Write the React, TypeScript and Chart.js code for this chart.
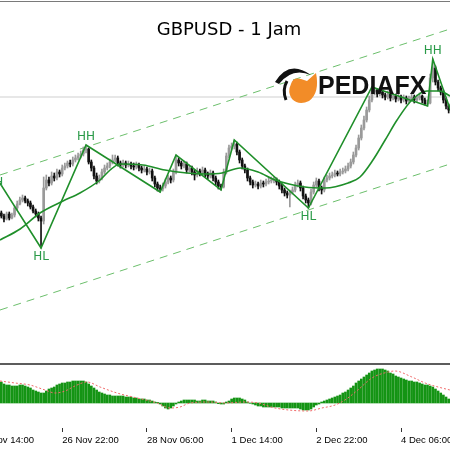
import React, { useEffect, useRef } from "react";
import { Chart, registerables } from "chart.js";

Chart.register(...registerables);

// ---- data (prices in pips above 1.3000) ----
const firstOpenPips = 187;
const closePips = [
  184, 181, 186, 182, 185, 192, 196, 200, 202, 199,
  197, 193, 189, 186, 182, 179, 212, 220, 217, 224,
  222, 228, 226, 232, 234, 237, 236, 240, 242, 244,
  246, 250, 251, 238, 232, 224, 219, 222, 228, 232,
  234, 238, 240, 242, 237, 235, 237, 235, 236, 234,
  233, 235, 232, 230, 231, 228, 229, 222, 216, 212,
  211, 214, 218, 222, 220, 228, 240, 237, 234, 236,
  230, 232, 228, 225, 229, 227, 230, 226, 224, 227,
  222, 218, 214, 213, 228, 244, 252, 254, 256, 248,
  240, 234, 230, 222, 218, 215, 216, 214, 217, 216,
  218, 219, 220, 220, 218, 214, 210, 207, 205, 208,
  210, 215, 217, 212, 204, 200, 197, 208, 215, 219,
  212, 210, 220, 222, 224, 225, 227, 226, 228, 229,
  231, 234, 238, 245, 252, 262, 272, 280, 290, 300,
  308, 310, 306, 308, 305, 303, 306, 302, 304, 301,
  303, 300, 302, 299, 301, 303, 300, 302, 304, 300,
  296, 297, 322, 332, 318, 312, 308, 300, 294, 290,
];
const highPips = [
  189, 186, 188, 188, 187, 194, 199, 203, 205, 204,
  201, 199, 195, 191, 188, 184, 223, 225, 223, 228,
  227, 231, 230, 235, 237, 239, 240, 243, 245, 247,
  249, 253, 255, 252, 240, 234, 227, 225, 231, 235,
  237, 241, 245, 245, 244, 239, 240, 239, 239, 238,
  237, 238, 237, 234, 234, 233, 232, 231, 224, 218,
  215, 217, 221, 225, 224, 231, 245, 242, 239, 239,
  238, 235, 234, 230, 232, 231, 233, 232, 228, 230,
  229, 224, 220, 216, 231, 247, 255, 257, 260, 258,
  250, 242, 236, 232, 224, 220, 219, 218, 220, 219,
  221, 222, 223, 223, 222, 220, 216, 212, 209, 210,
  213, 218, 220, 219, 214, 206, 202, 211, 218, 222,
  221, 214, 223, 225, 227, 228, 230, 229, 231, 232,
  234, 237, 241, 248, 255, 265, 275, 284, 293, 304,
  313, 312, 311, 311, 310, 307, 309, 308, 307, 306,
  306, 305, 305, 304, 304, 306, 305, 305, 307, 305,
  302, 300, 326, 341, 334, 320, 314, 310, 302, 296,
];
const lowPips = [
  182, 178, 180, 180, 181, 183, 190, 195, 198, 197,
  194, 191, 187, 183, 179, 152, 176, 210, 214, 215,
  219, 220, 223, 224, 230, 232, 233, 234, 238, 240,
  242, 244, 247, 236, 229, 221, 216, 217, 220, 226,
  230, 232, 236, 238, 234, 232, 233, 232, 233, 231,
  230, 231, 229, 227, 228, 225, 226, 219, 213, 209,
  208, 209, 212, 216, 217, 218, 226, 234, 231, 232,
  227, 228, 225, 220, 223, 224, 225, 223, 221, 222,
  219, 215, 211, 210, 212, 226, 242, 250, 251, 245,
  237, 231, 227, 219, 215, 212, 213, 211, 212, 213,
  214, 216, 217, 217, 215, 211, 207, 204, 202, 193,
  206, 208, 213, 209, 201, 197, 192, 195, 206, 213,
  209, 206, 208, 218, 220, 222, 223, 224, 224, 226,
  227, 229, 232, 236, 243, 250, 260, 270, 278, 288,
  298, 305, 303, 304, 302, 300, 301, 299, 300, 298,
  299, 297, 298, 296, 297, 299, 297, 298, 300, 297,
  295, 294, 296, 318, 315, 309, 305, 297, 291, 287,
];

// moving average (bar index, pips)
const maIdx = [-0.5, 7.1, 14.6, 23.3, 29.7, 37.3, 41.1, 44.8, 53.5, 61.8, 70.1, 77, 83.4, 90.2, 97, 103.4, 114.7, 122.3, 131, 135.5, 140.4, 145, 149.5, 155.1, 160.8, 165.7, 169.5];
const maPips = [160, 171, 187, 199, 207, 220, 230, 236, 235, 230, 227, 226, 227, 232, 228, 220, 213, 212, 217, 223, 240, 260, 280, 300, 309, 309, 304];

// zigzag swing points
const zzIdx = [-2.7, 15, 32, 60, 66, 83, 88, 116, 140, 161, 163, 170.3];
const zzPips = [226, 152, 255, 208, 245, 210, 260, 192, 313, 294, 341, 285];
const zzLabelAt = [0, 1, 2, 7, 10];
const zzLabelText = ["HH", "HL", "HH", "HL", "HH"];
const zzLabelPlace = ["below", "below", "above", "below", "above"];

// channel lines and horizontal level
const channelIdx = [-0.5, 169.5];
const upperPips = [225, 371];
const lowerPips = [90, 236];
const levelPips = 303;

// MACD (points) and signal
const macdHist = [
  63, 57, 54, 54, 51, 51, 51, 54, 54, 51,
  48, 45, 39, 36, 33, 30, 30, 36, 42, 45,
  48, 54, 57, 60, 60, 63, 63, 66, 66, 66,
  66, 66, 63, 57, 51, 45, 39, 33, 30, 27,
  24, 24, 21, 21, 21, 21, 21, 18, 18, 18,
  15, 15, 12, 12, 12, 9, 9, 6, 3, 2,
  -3, -9, -15, -18, -15, -9, -3, 3, 6, 9,
  9, 9, 9, 9, 6, 6, 9, 9, 6, 6,
  6, 3, -2, -3, -3, 3, 6, 12, 15, 15,
  15, 12, 9, 3, -1, -3, -6, -9, -9, -12,
  -12, -12, -12, -12, -12, -12, -15, -15, -15, -15,
  -15, -15, -15, -18, -21, -21, -21, -18, -12, -6,
  -3, 3, 6, 9, 12, 15, 18, 21, 24, 30,
  33, 39, 45, 51, 60, 66, 72, 78, 84, 90,
  96, 99, 102, 102, 102, 99, 96, 90, 87, 81,
  78, 75, 72, 69, 66, 66, 63, 63, 60, 57,
  54, 54, 51, 48, 42, 36, 30, 24, 18, 12,
];
const sigIdx = [-0.5, 5.2, 10.8, 16.5, 20.3, 24.1, 27.8, 32.4, 37.3, 43.7, 49.7, 58.8, 63.7, 67.5, 71.3, 78.8, 84.5, 92.1, 97, 103.4, 115.9, 121.1, 126.1, 129.8, 134.7, 140, 146.1, 148.7, 155.1, 160.1, 165, 169.5];
const sigVal = [66, 60, 54, 39, 30, 36, 51, 63, 48, 30, 18, 0, -15, -12, 0, 3, 0, 3, 0, -15, -24, -15, -6, 9, 39, 75, 93, 96, 78, 60, 48, 39];

// time axis
const tickIdx = [-9, 23, 55, 87, 119, 151];
const tickLabels = ["25 Nov 14:00", "26 Nov 22:00", "28 Nov 06:00", "1 Dec 14:00", "2 Dec 22:00", "4 Dec 06:00"];

const titleText = "GBPUSD - 1 Jam";
const brandText = "PEDIAFX";

const toPrice = (p: number) => 1.3 + p / 10000;

const BULL = "#9a9a9a";
const BEAR = "#111111";
const GREEN = "#1f8f2a";

export default function App() {
  const ref = useRef<HTMLCanvasElement>(null);

  useEffect(() => {
    document.body.style.margin = "0";
    const canvas = ref.current!;
    const opens = closePips.map((_, i) => (i === 0 ? firstOpenPips : closePips[i - 1]));
    const isUp = (i: number) => closePips[i] >= opens[i];

    const overlay = {
      id: "overlay",
      afterDraw(chart: any) {
        const { ctx, width } = chart;
        const xs = chart.scales.x;
        const ys = chart.scales.y;
        ctx.save();
        ctx.fillStyle = "#7a7a7a";
        ctx.fillRect(0, 1, width, 1);
        ctx.fillStyle = "#5c5c5c";
        ctx.fillRect(0, 363, width, 2);

        // swing labels
        ctx.font = '12px "DejaVu Sans"';
        ctx.fillStyle = "#2a9a48";
        ctx.textAlign = "center";
        zzLabelAt.forEach((k, j) => {
          const px = xs.getPixelForValue(zzIdx[k]);
          const py = ys.getPixelForValue(toPrice(zzPips[k]));
          if (zzLabelPlace[j] === "above") {
            ctx.textBaseline = "bottom";
            ctx.fillText(zzLabelText[j], px, py - 2);
          } else {
            ctx.textBaseline = "top";
            ctx.fillText(zzLabelText[j], px, py + 3);
          }
        });

        // title
        ctx.fillStyle = "#000";
        ctx.font = '18px "DejaVu Sans"';
        ctx.textBaseline = "alphabetic";
        ctx.textAlign = "center";
        ctx.fillText(titleText, 229, 35);

        // logo
        ctx.fillStyle = "#f28c28";
        ctx.beginPath();
        ctx.moveTo(291, 84);
        ctx.quadraticCurveTo(293, 77, 301, 79);
        ctx.lineTo(307, 81);
        ctx.lineTo(316, 73);
        ctx.quadraticCurveTo(320, 93, 309, 101);
        ctx.quadraticCurveTo(299, 106, 292, 99);
        ctx.quadraticCurveTo(287, 92, 291, 84);
        ctx.fill();
        ctx.fillStyle = "#111";
        ctx.beginPath();
        ctx.moveTo(275, 82);
        ctx.quadraticCurveTo(289, 59, 311, 75);
        ctx.quadraticCurveTo(292, 67, 279, 84);
        ctx.closePath();
        ctx.fill();
        ctx.strokeStyle = "#111";
        ctx.lineWidth = 3;
        ctx.beginPath();
        ctx.moveTo(287, 81);
        ctx.quadraticCurveTo(282, 90, 286, 100);
        ctx.stroke();
        ctx.font = 'bold 25px "Liberation Sans"';
        ctx.textAlign = "left";
        ctx.fillText(brandText, 318, 94);
        ctx.restore();
      },
    };

    const chart = new Chart(canvas, {
      type: "bar",
      data: {
        datasets: [
          {
            type: "line",
            label: "level",
            data: channelIdx.map((x) => ({ x, y: toPrice(levelPips) })),
            borderColor: "#cfcfcf",
            borderWidth: 1,
            pointRadius: 0,
            yAxisID: "y",
            order: 12,
          } as any,
          {
            type: "line",
            label: "upper",
            data: channelIdx.map((x, k) => ({ x, y: toPrice(upperPips[k]) })),
            borderColor: "#6cbf6c",
            borderWidth: 1,
            borderDash: [8, 6],
            pointRadius: 0,
            yAxisID: "y",
            order: 11,
          },
          {
            type: "line",
            label: "lower",
            data: channelIdx.map((x, k) => ({ x, y: toPrice(lowerPips[k]) })),
            borderColor: "#6cbf6c",
            borderWidth: 1,
            borderDash: [8, 6],
            pointRadius: 0,
            yAxisID: "y",
            order: 11,
          },
          {
            type: "bar",
            label: "wicks",
            data: closePips.map((_, i) => ({ x: i, y: [toPrice(lowPips[i]), toPrice(highPips[i])] })),
            backgroundColor: (c: any) => (isUp(c.dataIndex) ? BULL : BEAR),
            barThickness: 1,
            grouped: false,
            yAxisID: "y",
            order: 9,
          },
          {
            type: "bar",
            label: "bodies",
            data: closePips.map((c, i) => ({ x: i, y: [toPrice(opens[i]), toPrice(c)] })),
            backgroundColor: (c: any) => (isUp(c.dataIndex) ? BULL : BEAR),
            barThickness: 2,
            minBarLength: 1,
            grouped: false,
            yAxisID: "y",
            order: 8,
          },
          {
            type: "line",
            label: "ma",
            data: maIdx.map((x, k) => ({ x, y: toPrice(maPips[k]) })),
            borderColor: GREEN,
            borderWidth: 1.6,
            pointRadius: 0,
            tension: 0.4,
            cubicInterpolationMode: "monotone",
            yAxisID: "y",
            order: 6,
          },
          {
            type: "line",
            label: "zigzag",
            data: zzIdx.map((x, k) => ({ x, y: toPrice(zzPips[k]) })),
            borderColor: GREEN,
            borderWidth: 1.6,
            pointRadius: 0,
            tension: 0,
            yAxisID: "y",
            order: 5,
          },
          {
            type: "bar",
            label: "macd",
            data: macdHist.map((v, i) => ({ x: i, y: v })),
            backgroundColor: "#149414",
            barThickness: 2,
            grouped: false,
            yAxisID: "yM",
            order: 4,
          },
          {
            type: "line",
            label: "signal",
            data: sigIdx.map((x, k) => ({ x, y: sigVal[k] })),
            borderColor: "#f06a6a",
            borderWidth: 1,
            borderDash: [2, 2],
            pointRadius: 0,
            tension: 0.4,
            cubicInterpolationMode: "monotone",
            yAxisID: "yM",
            order: 3,
          },
        ] as any,
      },
      options: {
        responsive: false,
        animation: false,
        events: [],
        layout: { padding: 0 },
        plugins: {
          legend: { display: false },
          tooltip: { enabled: false },
          title: { display: false },
        },
        scales: {
          x: {
            type: "linear",
            min: -0.5,
            max: 169.5,
            offset: false,
            afterBuildTicks: (s: any) => {
              s.ticks = tickIdx.map((v) => ({ value: v }));
            },
            afterFit: (s: any) => {
              s.height = 22;
              s.paddingLeft = 0;
              s.paddingRight = 0;
            },
            ticks: {
              autoSkip: false,
              maxRotation: 0,
              minRotation: 0,
              align: "start",
              padding: 3,
              color: "#000",
              font: { family: "Liberation Sans", size: 9.5 },
              callback: (v: any) => {
                const k = tickIdx.indexOf(Number(v));
                return k >= 0 ? tickLabels[k] : "";
              },
            },
            grid: { drawOnChartArea: false, drawTicks: true, tickLength: 4, tickColor: "#333", offset: false },
            border: { display: false },
          },
          y: { type: "linear", display: false, min: 1.2972, max: 1.34 },
          yM: { type: "linear", display: false, min: -75, max: 1209 },
        },
      } as any,
      plugins: [overlay],
    });
    return () => chart.destroy();
  }, []);

  return (
    <div style={{ width: 450, height: 450 }}>
      <canvas ref={ref} width={450} height={450} style={{ display: "block" }} />
    </div>
  );
}
